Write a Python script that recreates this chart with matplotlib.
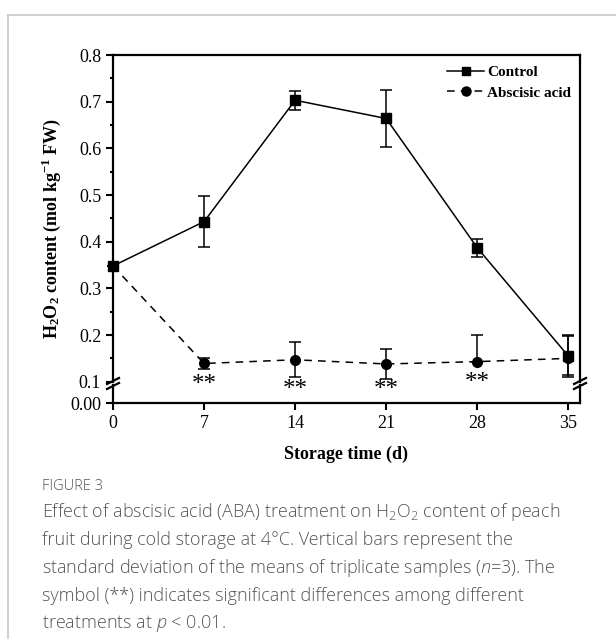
import matplotlib
matplotlib.use("Agg")
import matplotlib.pyplot as plt
from matplotlib.lines import Line2D
import numpy as np

plt.rcParams['mathtext.fontset'] = 'custom'
plt.rcParams['mathtext.rm'] = 'Open Sans:light'
plt.rcParams['mathtext.it'] = 'Open Sans:italic:light'
plt.rcParams['mathtext.bf'] = 'Liberation Serif:bold'

days = [0, 7, 14, 21, 28, 35]
control = [0.348, 0.443, 0.703, 0.664, 0.387, 0.155]
control_sd = [0.0, 0.055, 0.020, 0.062, 0.019, 0.045]
aba = [0.348, 0.139, 0.147, 0.138, 0.143, 0.150]
aba_sd_low = [0.0, 0.012, 0.038, 0.033, 0.0, 0.036]
aba_sd_high = [0.0, 0.012, 0.038, 0.033, 0.058, 0.047]
star_days = [7, 14, 21, 28]
star_y = [0.094, 0.082, 0.082, 0.098]

serif = 'Liberation Serif'
W, H = 616, 639

fig = plt.figure(figsize=(6.16, 6.39), dpi=100)

def fx(px):
    return px / W

def fy(py):
    return 1 - py / H

left, right = 113, 580
ax = fig.add_axes([fx(left), fy(381.7), fx(right - left), fy(55) - fy(381.7)])
axb = fig.add_axes([fx(left), fy(403), fx(right - left), fy(385) - fy(403)], sharex=ax)

dash = (0, (5, 4))
# control, solid with squares
ax.errorbar(days, control, yerr=control_sd, color='black', lw=1.1, marker='s',
            ms=6.5, capsize=4, elinewidth=1.1, capthick=1.1,
            clip_on=False, zorder=3)
# abscisic acid, dashed with circles
ax.errorbar(days, aba, yerr=[aba_sd_low, aba_sd_high], color='black', lw=1.1,
            ls=dash, marker='o', ms=7, capsize=4, elinewidth=1.1,
            capthick=1.1, clip_on=False, zorder=3)

for d, y in zip(star_days, star_y):
    ax.text(d, y, '**', ha='center', va='center', fontsize=18,
            family=serif, clip_on=False)

ax.set_ylim(0.1, 0.8)
ax.set_xlim(0, 35.9)
ax.set_yticks(np.arange(0.1, 0.81, 0.1))
ax.set_yticklabels(['0.1', '0.2', '0.3', '0.4', '0.5', '0.6', '0.7', '0.8'])
ax.set_yticks(np.arange(0.15, 0.8, 0.1), minor=True)
ax.spines['bottom'].set_visible(False)
ax.tick_params(axis='x', which='both', bottom=False, labelbottom=False)
ax.tick_params(axis='y', which='major', direction='out', length=5, width=1.5,
               labelsize=13)
ax.tick_params(axis='y', which='minor', direction='out', length=2.5, width=1.5)
for s in ['left', 'right', 'top']:
    ax.spines[s].set_linewidth(1.6)
for lab in ax.get_yticklabels():
    lab.set_family(serif)

axb.set_ylim(0, 0.01)
axb.set_yticks([0])
axb.set_yticklabels(['0.00'])
axb.set_xticks(days)
axb.set_xticklabels([str(d) for d in days])
axb.spines['top'].set_visible(False)
for s in ['left', 'right', 'bottom']:
    axb.spines[s].set_linewidth(1.6)
axb.tick_params(direction='out', length=5, width=1.5, labelsize=13)
axb.patch.set_alpha(0)
for lab in axb.get_xticklabels() + axb.get_yticklabels():
    lab.set_family(serif)

axb.set_xlabel('Storage time (d)', family=serif, fontweight='bold', fontsize=13,
               labelpad=10)
ax.set_ylabel(r'$\mathbf{H_2O_2}$ content (mol kg$^{\mathbf{-1}}$ FW)',
              family=serif, fontweight='bold', fontsize=13)
ax.yaxis.set_label_coords((63 - left) / (right - left), 0.47)

handles = [Line2D([], [], color='black', lw=1.1, marker='s', ms=6),
           Line2D([], [], color='black', lw=1.1, ls=dash, marker='o', ms=6.5)]
ax.legend(handles, ['Control', 'Abscisic acid'], loc='upper right',
          bbox_to_anchor=(1.01, 1.01), frameon=False,
          prop={'family': serif, 'weight': 'bold', 'size': 11},
          handlelength=2.4, handletextpad=0.2, labelspacing=0.45)

# axis break marks
for xpx in [left, right]:
    for ypx in [381, 386]:
        fig.add_artist(Line2D([fx(xpx - 6), fx(xpx + 6)],
                              [fy(ypx + 3), fy(ypx - 3)],
                              color='black', lw=1.6))

# panel border (top and left only)
fig.add_artist(Line2D([fx(8), fx(W)], [fy(15), fy(15)], color='#c8c8c8', lw=1.2))
fig.add_artist(Line2D([fx(8), fx(8)], [fy(15), 0], color='#c8c8c8', lw=1.2))

cap_color = '#555555'
fig.text(fx(42), fy(487), 'FIGURE 3', color=cap_color, fontsize=10.5,
         family='Open Sans', fontweight='light', va='center')
caption = [
    'Effect of abscisic acid (ABA) treatment on H$_2$O$_2$ content of peach',
    'fruit during cold storage at 4\u00b0C. Vertical bars represent the',
    'standard deviation of the means of triplicate samples ($\\it{n}$=3). The',
    'symbol (**) indicates significant differences among different',
    'treatments at $\\it{p}$ < 0.01.',
]
for i, line in enumerate(caption):
    fig.text(fx(42), fy(512 + 28 * i), line, color=cap_color, fontsize=13,
             family='Open Sans', fontweight='light', va='center')

fig.savefig('out.png', dpi=100)
